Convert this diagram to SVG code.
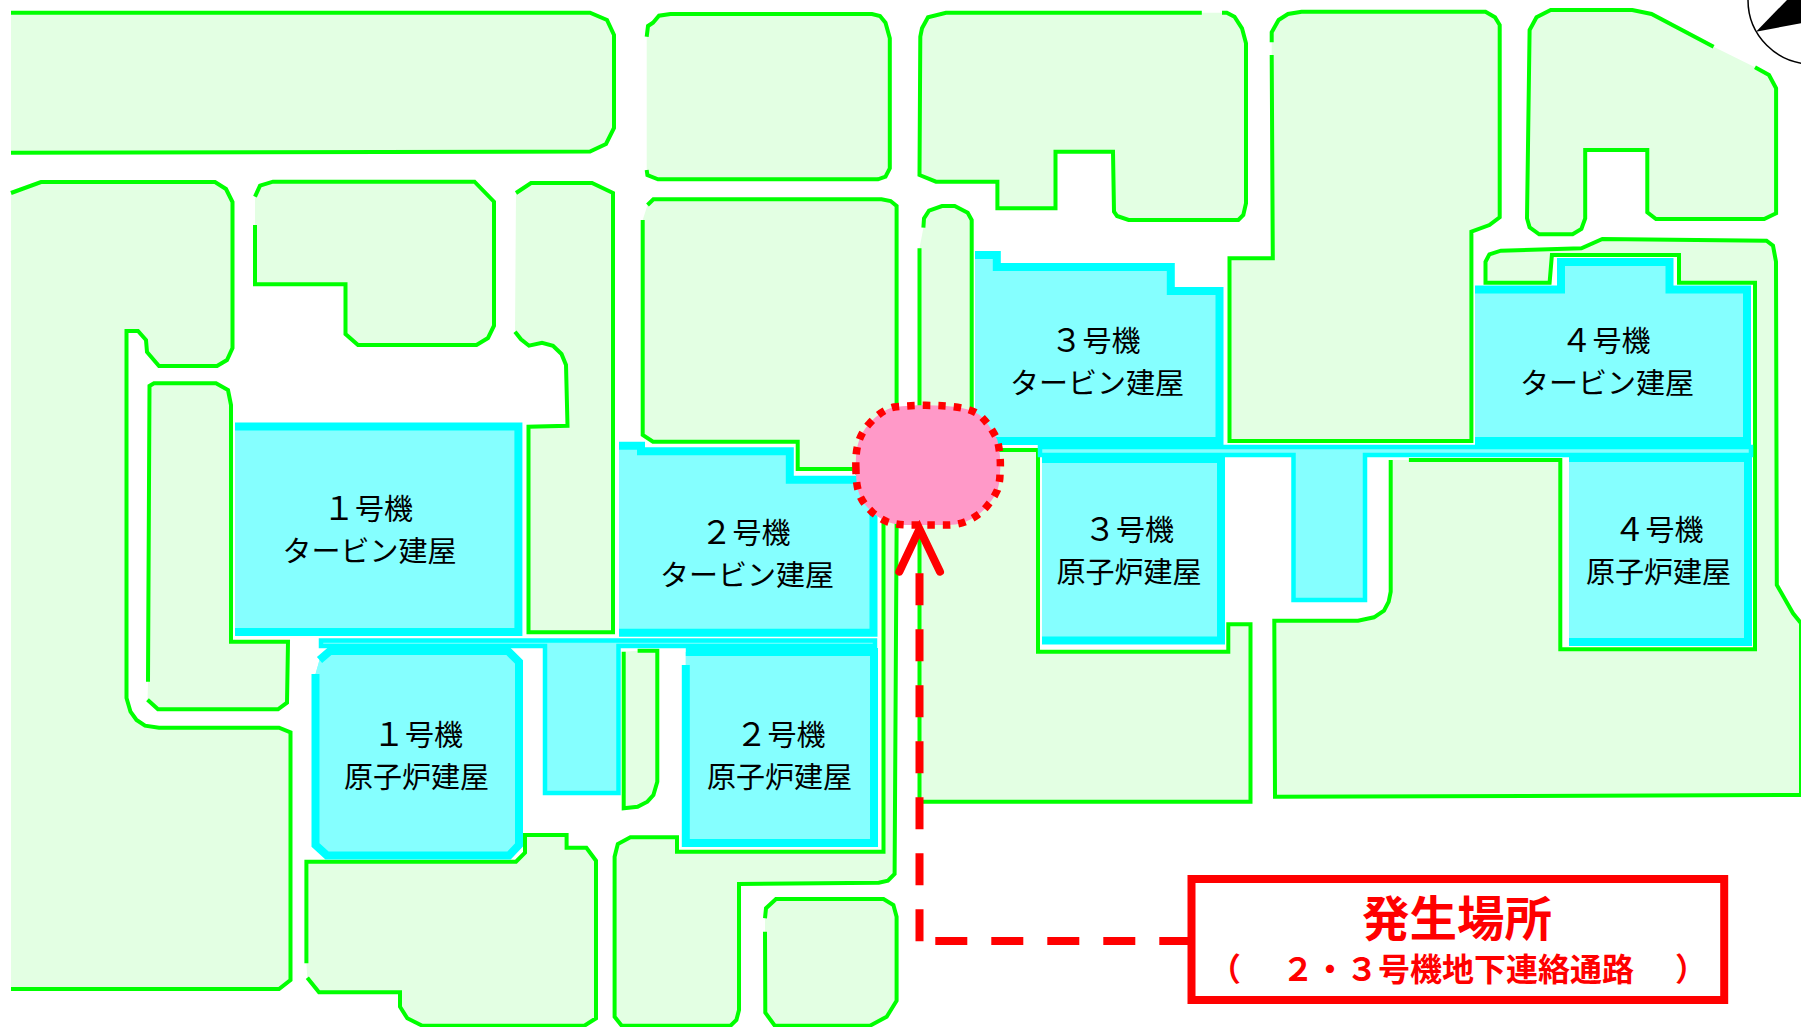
<svg xmlns="http://www.w3.org/2000/svg" width="1801" height="1027" viewBox="0 0 1801 1027">
<style>
.g{fill:#e3ffe3;stroke:#00ff00;stroke-width:4;stroke-linejoin:miter}
.c{fill:#85ffff;stroke:#00ffff;stroke-width:8;stroke-linejoin:miter}
.b{fill:#85ffff;stroke:#00ffff;stroke-width:4.5;stroke-linejoin:miter}
.t{font-family:"Noto Sans CJK JP","Noto Sans",sans-serif;font-size:29px;fill:#000}
.d{font-size:32px}
.r{fill:none;stroke:#ff0000;stroke-width:8}
.lab{font-family:"Noto Sans CJK JP","Noto Sans",sans-serif;fill:#ff0000;font-weight:700}
</style>
<rect width="1801" height="1027" fill="#ffffff"/>
<g id="compass">
<circle cx="1812" cy="0" r="64" fill="#ffffff" stroke="#000000" stroke-width="1.5"/>
<path d="M1756 31.7L1784.3 2.7L1787 0H1801V23.3Z" fill="#000000"/>
</g>
<g id="site-blocks">
<path id="block-a" class="g" d="M11 12.7H590L607 20L614 35V128L606 144L590 151.5L11 152.7"/>
<path id="block-b" class="g" d="M11 193L41 182H215L226 189L232.5 202V348L227 360L217 366H159L147 352L146 340L138 331H126.5V698L130.5 711.7L136.5 720L145 725.7L159 727.7H279L290.5 732.3V980L279 989H11"/>
<path id="block-c" class="g" d="M255 196.7L260 185.7L273 181.7H474.5L494 201.7V325.7L488 338L476.5 345H358L345.5 334V284.3H255V225"/>
<path id="block-d" class="g" d="M516 193L531 183H592L613 193V632.3H528.5V426.7L567.5 425.7L566 365L561.5 354L553 345.7L542 342.7L529 345.7L521 339.3L515 331.7"/>
<path id="block-e" class="g" d="M148 681.7L149.5 386L154 383.3H216L228 390L231 405V641.7H288L287 702.7L278 709.3H158L147.5 699.7"/>
<path id="block-f" class="g" d="M637.6 650.7H657.3V781.7L653.4 795L647.4 801.7L637.6 806.7L623.7 808.3V651.7"/>
<path id="block-g" class="g" d="M646.7 36.7L648 26L653 22.7L659 15.7L670.4 14H872L880 16L885.5 22.7L889.8 38.3V168.3L885.5 176.7L878 179.3H658L647.4 175L646.7 170"/>
<path id="block-h" class="g" d="M647.5 205L653.4 199.3H881.5L890.6 201L896.6 206V530L894.6 874L887.9 880.7L878.8 882.7L739 884V1010L736.4 1020L730.5 1025.7H621.7L614.6 1016.7V856.7L617.8 844L630.4 837.3H677V851.7H883.5V500L853 469H797.7V441.7H653L642.7 435V220"/>
<path id="block-i" class="g" d="M1201.8 12.7H946L928 17.3L922 28.3L920.3 36.7L919.5 175L936 181.7H997.4V208.3H1055.5V151.7H1113L1114 211.7L1117 216L1128.6 220H1238.3L1243.3 215L1246 203.3V43.3L1242 28.3L1234.5 16.7L1226.8 12.7H1222"/>
<path id="block-j" class="g" d="M923.4 227.7L924 218.3L929 210.7L942 206H954.7L967.7 212.7L971.7 220V450H1038V651.7H1228.3V624.3H1250.5V801.7H919.5V248.3"/>
<path id="block-k" class="g" d="M1408.9 460H1560.3V649.3H1755V282.7H1679V255H1551.9L1549.6 282.7H1485.5V261.7L1489.4 254.3L1500.9 250.7L1581.4 248.3L1602.4 239L1766.5 240.7L1773 245.7L1776 261.7L1776.8 585L1793 613.3L1801 623.3V795L1275 796.7L1274.3 620.7H1358L1374 617.3L1384 610.7L1388.7 601.7L1390.7 591.7V460"/>
<path id="block-l" class="g" d="M1271.7 42.3V32.3L1278.6 20L1288 14L1301.6 11.7H1485.5L1495 17.3L1499.7 25V217.3L1489.4 225L1471.4 231.7V441H1229.5V258.3H1272.8L1271.7 55"/>
<path id="block-m" class="g" d="M1713.6 46.7L1651.5 14L1632.3 10H1550.7L1536.5 17.3L1529.6 30L1527 218.3L1529.6 227.3L1539.2 234.3H1572.6L1581.4 229L1585.2 218.3V150H1647.3V212.3L1656 219H1764.2L1776.1 213.3V88.3L1769 75L1755 67.3"/>
<path id="block-n" class="g" d="M306.4 963.3V861.7H516L525 852.7V835H566.6V847.7H586.4L596 860.7V1018.3L584.4 1025.7H422.3L407.3 1018.3L400 1006.7V992.3H319L307.3 977.7"/>
<path id="block-o" class="g" d="M765 918.3L766 908.3L776 899H883.5L893.4 905L896.6 916.7V1000.7L886.7 1016.7L870 1025.7H774.8L765.3 1012.7L765 931.7"/>
</g>
<g id="corridors">
<path class="b" d="M321 640.5H875V646H618.5V793H545V646H321Z"/>
<path class="b" d="M1040 447H1751V455H1365V600H1293.5V455H1040Z"/>
</g>
<g id="turbine-1"><path class="c" d="M235 426.5H518.4V632H235"/>
<text class="t" x="323" y="520"><tspan class="d">１</tspan>号機</text><text class="t" x="282.5" y="562">タービン建屋</text></g>
<g id="reactor-1"><path d="M319.5 660L330 651H508L519 662V845L509 855.5H327L315.5 845V674Z" fill="#85ffff"/><path class="c" d="M319.5 660L330 651H508L519 662V845L509 855.5H327L315.5 845V674" fill="none"/>
<text class="t" x="373" y="746"><tspan class="d">１</tspan>号機</text><text class="t" x="344" y="788">原子炉建屋</text></g>
<g id="turbine-2"><path class="c" d="M619 445.8H641V451.3H789.8V479.7H873.5V632.8H619"/>
<text class="t" x="700.6" y="544"><tspan class="d">２</tspan>号機</text><text class="t" x="660" y="586">タービン建屋</text></g>
<g id="reactor-2"><path d="M685.8 652H874V843H685.8Z" fill="#85ffff"/><path class="c" d="M685.8 652H874V843H685.8V665" fill="none"/>
<text class="t" x="735.4" y="746"><tspan class="d">２</tspan>号機</text><text class="t" x="707" y="788">原子炉建屋</text></g>
<g id="turbine-3"><path class="c" d="M975 255H996.8V267H1170.8V291H1219.5V441H975"/>
<text class="t" x="1050.6" y="351.5"><tspan class="d">３</tspan>号機</text><text class="t" x="1010" y="393.5">タービン建屋</text></g>
<g id="reactor-3"><path class="c" d="M1042 459H1221V640.5H1042"/>
<text class="t" x="1084" y="541"><tspan class="d">３</tspan>号機</text><text class="t" x="1056.5" y="582.5">原子炉建屋</text></g>
<g id="turbine-4"><path class="c" d="M1475 289.5H1561V262H1669.5V289.5H1747V441H1475"/>
<text class="t" x="1560.5" y="351.5"><tspan class="d">４</tspan>号機</text><text class="t" x="1520" y="393.5">タービン建屋</text></g>
<g id="reactor-4"><path class="c" d="M1569 458H1748V642H1569"/>
<text class="t" x="1613.6" y="541"><tspan class="d">４</tspan>号機</text><text class="t" x="1586" y="582.5">原子炉建屋</text></g>
<g id="incident-site">
<path d="M856 470C855 450 858 436 869 424C877 415 885 409 894.6 407C912 405 930 405 946 406C960 407 971 409 979.6 415C988 423 993 431 997.4 440C1000 452 1001 462 1000 473C1000 480 999 485 997.4 490C995 495 993 499 989.5 503C985 509 982 512 977.6 515C968 522 958 525 948 525H918C906 525 896 525 887 521.7C881 519 877 516 873 513C868 508 864 504 861 498C857 490 856 480 856 470Z" fill="#ff99c8" stroke="#ff0000" stroke-width="7.5" stroke-dasharray="7.5 8"/>
</g>
<g id="connectors">
<path class="r" d="M919.5 573.3V941.3" stroke-dasharray="32 24"/>
<path class="r" d="M935.3 941H1189" stroke-dasharray="32 24"/>
<path d="M899.3 571.7L919.5 529L940 571.7" fill="none" stroke="#ff0000" stroke-width="8" stroke-linecap="round" stroke-linejoin="miter"/>
</g>
<g id="label">
<rect x="1191.5" y="879" width="532.7" height="121" fill="#ffffff" stroke="#ff0000" stroke-width="8"/>
<text class="lab" x="1362" y="936" font-size="47.5">発生場所</text>
<text class="lab" y="981" font-size="32"><tspan x="1209">（　</tspan><tspan x="1282">２・３号機地下連絡通路　</tspan><tspan x="1675">）</tspan></text>
</g>
</svg>
